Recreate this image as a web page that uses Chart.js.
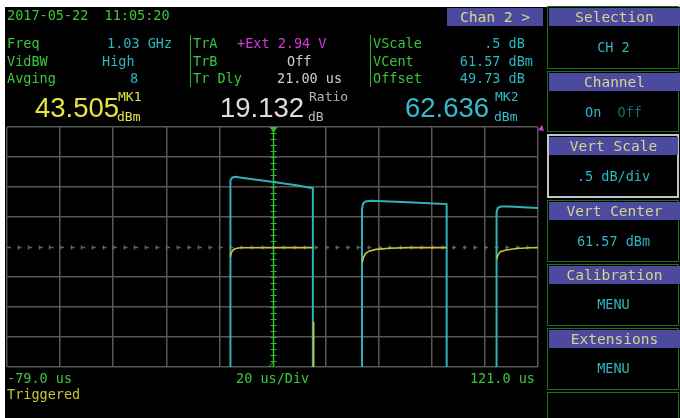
<!DOCTYPE html>
<html>
<head>
<meta charset="utf-8">
<script src="https://cdn.jsdelivr.net/npm/chart.js@4.4.0/dist/chart.umd.min.js"></script>
<style>
    body { margin: 0; width: 680px; height: 418px; overflow: hidden; position: relative; background: #fff; font-family: "DejaVu Sans Mono", monospace; }
    #screen { position: absolute; left: 5px; top: 7px; width: 675px; height: 411px; background: #000; }
    #myChart { position: absolute; left: 0; top: 0; }
    .t { position: absolute; white-space: pre; font-size: 13.5px; line-height: 15px; }
    .g { color: #3cc63c; }
    .c { color: #2fb4c0; }
    .m { color: #d83ad8; }
    .w { color: #cfcfcf; }
    .y { color: #c9c23a; }
    .vl { position: absolute; width: 1px; background: #2fae2f; }
    .big { position: absolute; font-family: "Liberation Sans", sans-serif; font-size: 27.5px; line-height: 27px; white-space: pre; }
    .sm { position: absolute; font-size: 13px; line-height: 15px; white-space: pre; }
    .box { position: absolute; left: 547px; width: 132px; border: 1px solid #1d6e1d; box-sizing: border-box; }
    .hdr { position: absolute; height: 18px; background: #4c4a9e; color: #d8d28c; font-size: 14.5px; line-height: 18px; text-align: center; white-space: pre; }
    .val { position: absolute; left: 547px; width: 133px; text-align: center; font-size: 13.5px; line-height: 15px; color: #2fb4c0; white-space: pre; }
</style>
</head>
<body>
<div id="screen"></div>
<canvas id="myChart" width="680" height="418"></canvas>

<!-- 상단 정보 -->
<div class="t g" style="left:7px;top:8px">2017-05-22  11:05:20</div>
<div class="t g" style="left:7px;top:36px">Freq</div>
<div class="t c" style="left:107px;top:36px">1.03 GHz</div>
<div class="t g" style="left:7px;top:54px">VidBW</div>
<div class="t c" style="left:102px;top:54px">High</div>
<div class="t g" style="left:7px;top:71px">Avging</div>
<div class="t c" style="left:130px;top:71px">8</div>
<div class="vl" style="left:190px;top:35px;height:52px"></div>
<div class="t g" style="left:193px;top:36px">TrA</div>
<div class="t m" style="left:237px;top:36px">+Ext 2.94 V</div>
<div class="t g" style="left:193px;top:54px">TrB</div>
<div class="t w" style="left:287px;top:54px">Off</div>
<div class="t g" style="left:193px;top:71px">Tr Dly</div>
<div class="t w" style="left:277px;top:71px">21.00 us</div>
<div class="vl" style="left:370px;top:35px;height:52px"></div>
<div class="t g" style="left:373px;top:36px">VScale</div>
<div class="t c" style="right:147px;top:36px">.5 dB </div>
<div class="t g" style="left:373px;top:54px">VCent</div>
<div class="t c" style="right:147px;top:54px">61.57 dBm</div>
<div class="t g" style="left:373px;top:71px">Offset</div>
<div class="t c" style="right:147px;top:71px">49.73 dB </div>

<!-- 마커 값 -->
<div class="big" style="left:35px;top:94px;color:#e6e43e">43.505</div>
<div class="sm" style="left:118px;top:89px;color:#e6e43e">MK1</div>
<div class="sm" style="left:117px;top:109px;color:#e6e43e">dBm</div>
<div class="big" style="left:220px;top:94px;color:#dedede">19.132</div>
<div class="sm" style="left:309px;top:89px;color:#b8b8b8">Ratio</div>
<div class="sm" style="left:308px;top:109px;color:#b8b8b8">dB</div>
<div class="big" style="left:405px;top:94px;color:#34bcc8">62.636</div>
<div class="sm" style="left:495px;top:89px;color:#34bcc8">MK2</div>
<div class="sm" style="left:494px;top:109px;color:#34bcc8">dBm</div>

<!-- 하단 시간축 -->
<div class="t g" style="left:7px;top:371px">-79.0 us</div>
<div class="t g" style="left:236px;top:371px">20 us/Div</div>
<div class="t g" style="right:145px;top:371px">121.0 us</div>
<div class="t y" style="left:7px;top:387px">Triggered</div>

<!-- 오른쪽 메뉴 -->
<div class="hdr" style="left:447px;top:8px;width:96px">Chan 2 &gt;</div>
<div class="box" style="top:6px;height:63px"></div>
<div class="hdr" style="left:549px;top:8px;width:131px">Selection</div>
<div class="val" style="top:40px">CH 2</div>
<div class="box" style="top:71px;height:61px"></div>
<div class="hdr" style="left:549px;top:73px;width:131px">Channel</div>
<div class="val" style="top:105px">On  <span style="color:#1d6a72">Off</span></div>
<div class="box" style="top:134px;height:64px;border:2px solid #c4c4c4"></div>
<div class="hdr" style="left:549px;top:137px;width:129px">Vert Scale</div>
<div class="val" style="top:169px">.5 dB/div</div>
<div class="box" style="top:200px;height:62px"></div>
<div class="hdr" style="left:549px;top:202px;width:131px">Vert Center</div>
<div class="val" style="top:234px">61.57 dBm</div>
<div class="box" style="top:264px;height:62px"></div>
<div class="hdr" style="left:549px;top:266px;width:131px">Calibration</div>
<div class="val" style="top:297px">MENU</div>
<div class="box" style="top:328px;height:62px"></div>
<div class="hdr" style="left:549px;top:330px;width:131px">Extensions</div>
<div class="val" style="top:361px">MENU</div>
<div class="box" style="top:392px;height:30px"></div>

<script>
// 시간축 (us), 20 us/div
const timeDivs = [-79, -59, -39, -19, 1, 21, 41, 61, 81, 101, 121];
// 세로축 (dBm), 0.5 dB/div, 중심 61.57
const levelDivs = [59.57, 60.07, 60.57, 61.07, 61.57, 62.07, 62.57, 63.07, 63.57];
const trigDelay = 21;

// CH2 (청록) 트레이스
const ch2Time = [-79, 5.0, 5.0, 5.3, 5.9, 7.0, 10, 20, 30, 36.2, 36.2,
                 54.7, 54.7, 55.1, 56, 58, 70, 80, 86.6, 86.6,
                 105.4, 105.4, 105.8, 107, 110, 121];
const ch2Level = [58.5, 58.5, 62.55, 62.68, 62.73, 62.74, 62.72, 62.66, 62.6, 62.55, 58.5,
                  58.5, 62.2, 62.29, 62.33, 62.34, 62.32, 62.3, 62.285, 58.5,
                  58.5, 62.15, 62.22, 62.245, 62.245, 62.22];

// CH1 (노랑) 트레이스 - 화면 밖 구간은 null
const ch1Time = [5.15, 5.4, 5.8, 6.4, 7.5, 9, 20, 36.2, 36.3, 36.5, 36.5,
                 50, 54.8, 55.2, 56.0, 57.3, 60, 65, 72, 86.6,
                 95, 105.5, 105.9, 106.8, 109, 113, 118, 121];
const ch1Level = [61.41, 61.46, 61.50, 61.53, 61.55, 61.558, 61.56, 61.56, null, 60.32, 58.5,
                  null, 61.31, 61.39, 61.46, 61.50, 61.53, 61.55, 61.56, 61.56,
                  null, 61.37, 61.44, 61.49, 61.52, 61.545, 61.558, 61.56];

const toPoints = (xs, ys) => xs.map((x, i) => ({ x: x, y: ys[i] }));

// 중심선, 트리거선 그리기
const scopeMarks = {
    id: 'scopeMarks',
    beforeDatasetsDraw(chart) {
        const c = chart.ctx;
        const a = chart.chartArea;
        const xs = chart.scales.x;
        const ys = chart.scales.y;
        const cy = Math.round(ys.getPixelForValue(levelDivs[4])) + 0.5;
        c.save();
        // 가운데 가로 점선 + 작은 눈금
        c.strokeStyle = '#626262';
        c.lineWidth = 1.5;
        c.setLineDash([4, 6.6]);
        c.beginPath();
        c.moveTo(a.left, cy);
        c.lineTo(a.right, cy);
        c.stroke();
        c.setLineDash([]);
        const stepX = (a.right - a.left) / 50;
        c.beginPath();
        for (let i = 1; i < 50; i++) {
            const x = Math.round(a.left + i * stepX) + 0.5;
            c.moveTo(x, cy - 2);
            c.lineTo(x, cy + 2);
        }
        c.stroke();
        // 트리거 위치 세로선
        const tx = Math.round(xs.getPixelForValue(trigDelay)) + 0.5;
        c.strokeStyle = '#2fbf2f';
        c.lineWidth = 1.5;
        c.beginPath();
        c.moveTo(tx, a.top);
        c.lineTo(tx, a.bottom);
        c.stroke();
        c.lineWidth = 1;
        const stepY = (a.bottom - a.top) / 40;
        c.beginPath();
        for (let i = 1; i < 40; i++) {
            const y = Math.round(a.top + i * stepY) + 0.5;
            c.moveTo(tx - 3, y);
            c.lineTo(tx + 3, y);
        }
        c.stroke();
        c.fillStyle = '#2fbf2f';
        c.beginPath();
        c.moveTo(tx - 4, a.top);
        c.lineTo(tx + 4, a.top);
        c.lineTo(tx, a.top + 6);
        c.fill();
        c.beginPath();
        c.moveTo(tx - 5, a.bottom);
        c.lineTo(tx, a.bottom - 5);
        c.stroke();
        // 오른쪽 위 자홍색 표시
        c.fillStyle = '#d63ad6';
        c.beginPath();
        c.moveTo(a.right, a.top + 3);
        c.lineTo(a.right + 4, a.top - 2);
        c.lineTo(a.right + 6, a.top + 4);
        c.fill();
        c.restore();
    }
};

const ctx = document.getElementById('myChart').getContext('2d');
new Chart(ctx, {
    type: 'line',
    data: {
        datasets: [{
            label: 'CH1',
            data: toPoints(ch1Time, ch1Level),
            borderColor: '#c8c43a',
            borderWidth: 1.6,
            pointRadius: 0,
            spanGaps: false,
            tension: 0
        }, {
            label: 'CH2',
            data: toPoints(ch2Time, ch2Level),
            borderColor: '#2fb0bc',
            borderWidth: 2,
            pointRadius: 0,
            tension: 0
        }]
    },
    options: {
        responsive: false,
        animation: false,
        devicePixelRatio: 1,
        layout: {
            padding: { left: 7, top: 127, right: 142, bottom: 51 }
        },
        plugins: {
            legend: { display: false },
            tooltip: { enabled: false }
        },
        scales: {
            x: {
                type: 'linear',
                min: timeDivs[0],
                max: timeDivs[timeDivs.length - 1],
                afterBuildTicks: s => { s.ticks = timeDivs.map(v => ({ value: v })); },
                ticks: { display: false },
                border: { display: false },
                grid: {
                    drawTicks: false,
                    lineWidth: 1.5,
                    color: c => c.index === 5 ? 'rgba(0,0,0,0)' : '#575757'
                }
            },
            y: {
                min: levelDivs[0],
                max: levelDivs[levelDivs.length - 1],
                afterBuildTicks: s => { s.ticks = levelDivs.map(v => ({ value: v })); },
                ticks: { display: false },
                border: { display: false },
                grid: {
                    drawTicks: false,
                    lineWidth: 1.5,
                    color: c => c.index === 4 ? 'rgba(0,0,0,0)' : '#575757'
                }
            }
        }
    },
    plugins: [scopeMarks]
});
</script>
</body>
</html>
